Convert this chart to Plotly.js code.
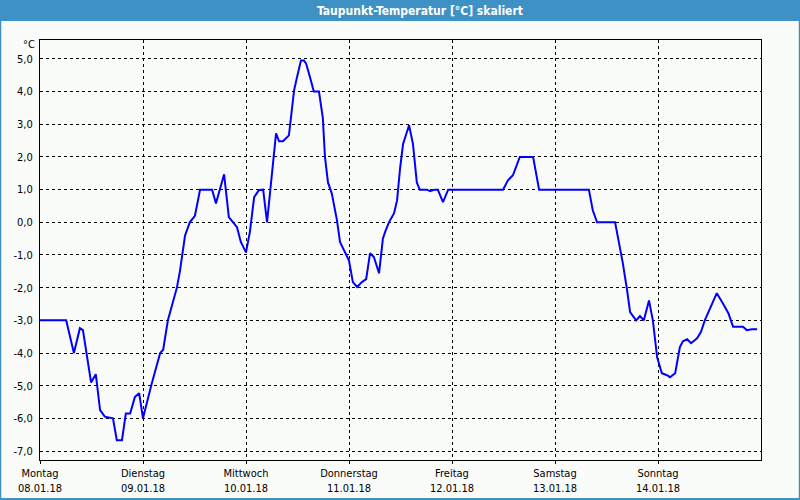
<!DOCTYPE html>
<html>
<head>
<meta charset="utf-8">
<script src="https://cdn.plot.ly/plotly-3.0.1.min.js"></script>
<style>
html,body{margin:0;padding:0;background:#fafcfa;}
#chart{width:800px;height:500px;}
</style>
</head>
<body>
<div id="chart"></div>
<script>
// hours since Monday 08.01.18 00:00
const hours = [0,6.1,7.9,9.3,10.0,11.9,13.0,14.0,15.1,17.0,17.9,19.1,20.0,21.0,22.1,23.1,24.0,25.9,28.0,28.7,29.8,31.9,32.6,33.8,34.9,36.1,37.3,40.1,41.0,42.9,44.0,45.9,46.8,48.0,48.9,49.9,51.0,52.0,52.9,53.8,54.5,55.0,55.7,56.6,58.0,58.5,59.2,59.9,60.8,61.5,62.0,62.9,63.8,65.0,65.9,66.4,67.1,68.0,69.2,69.9,71.5,72.0,72.9,73.9,75.0,76.0,76.9,77.8,79.0,79.9,80.4,81.3,82.5,83.2,83.9,84.6,86.0,86.9,87.8,88.5,90.2,90.9,92.0,92.7,93.9,95.1,107.9,109.0,110.2,111.8,114.9,115.8,116.3,127.9,128.8,129.8,134.0,135.1,135.8,136.8,137.5,138.9,139.8,140.7,141.9,142.8,143.8,144.9,146.1,146.8,148.0,149.1,149.8,150.8,151.7,153.1,154.0,154.9,156.1,157.7,159.1,160.4,161.5,163.8,164.7,165.9,167.1];
const dewpoint = [-3.0,-3.0,-4.0,-3.24,-3.3,-4.9,-4.65,-5.75,-5.95,-6.0,-6.67,-6.67,-5.85,-5.85,-5.35,-5.23,-6.0,-5.0,-4.0,-3.9,-3.0,-2.0,-1.5,-0.4,0.0,0.2,1.0,1.0,0.58,1.47,0.16,-0.15,-0.6,-0.92,-0.3,0.77,0.98,1.0,0.0,1.2,2.1,2.72,2.48,2.48,2.66,3.2,4.04,4.45,4.95,4.95,4.86,4.45,4.0,4.0,3.2,2.0,1.22,0.88,0.06,-0.6,-1.0,-1.17,-1.83,-1.98,-1.83,-1.74,-0.95,-1.06,-1.56,-0.5,-0.3,0.0,0.28,0.67,1.65,2.4,2.97,2.4,1.22,1.0,1.0,0.95,1.0,1.0,0.62,1.0,1.0,1.28,1.44,2.0,2.0,1.28,1.0,1.0,0.37,0.0,0.0,-0.76,-1.25,-2.08,-2.75,-3.0,-2.87,-3.0,-2.39,-3.0,-4.13,-4.62,-4.68,-4.74,-4.62,-3.82,-3.64,-3.58,-3.7,-3.55,-3.36,-3.0,-2.63,-2.17,-2.48,-2.78,-3.2,-3.2,-3.3,-3.27,-3.27];
const dayTicks = [0,24,48,72,96,120,144];
const dayNames = ["Montag","Dienstag","Mittwoch","Donnerstag","Freitag","Samstag","Sonntag"];
const dayDates = ["08.01.18","09.01.18","10.01.18","11.01.18","12.01.18","13.01.18","14.01.18"];
const yTicks = [5,4,3,2,1,0,-1,-2,-3,-4,-5,-6,-7];
const yLabels = yTicks.map(v => v.toFixed(1).replace('.', ','));
const titleText = "Taupunkt-Temperatur [°C] skaliert";

const W = 800, H = 500, L = 40, R = 39, T = 40, B = 40;
const pw = W - L - R, ph = H - T - B;
const px = x => (x - L) / pw;          // canvas px -> paper x
const py = y => (H - B - y) / ph;      // canvas px (from top) -> paper y

const font = "Tahoma, 'DejaVu Sans Condensed', 'Liberation Sans', sans-serif";

const data = [{
  x: hours, y: dewpoint, type: 'scatter', mode: 'lines',
  line: {color: '#0000ff', width: 2}, hoverinfo: 'skip'
}];

const layout = {
  width: W, height: H,
  margin: {l: L, r: R, t: T, b: B, pad: 0},
  paper_bgcolor: '#fafcfa', plot_bgcolor: '#fafcfa',
  showlegend: false,
  font: {family: font, size: 11, color: '#000'},
  xaxis: {
    range: [0, 168], tickmode: 'array', tickvals: dayTicks,
    ticktext: dayNames.map((d, i) => d + '<br>' + dayDates[i]),
    showgrid: true, gridcolor: '#000', gridwidth: 1, griddash: 'dot',
    showline: true, linecolor: '#000', linewidth: 1, mirror: true,
    ticks: 'outside', ticklen: 3, tickcolor: '#000', zeroline: false,
    tickfont: {family: font, size: 11, color: '#000'}, fixedrange: true
  },
  yaxis: {
    range: [-7.275, 5.58], tickmode: 'array', tickvals: yTicks, ticktext: yLabels,
    showgrid: true, gridcolor: '#000', gridwidth: 1, griddash: 'dot',
    showline: true, linecolor: '#000', linewidth: 1, mirror: true,
    ticks: '', zeroline: false, ticklabelstandoff: 4,
    tickfont: {family: font, size: 11, color: '#000'}, fixedrange: true
  },
  shapes: [
    {type: 'rect', xref: 'paper', yref: 'paper', x0: px(0), x1: px(800), y0: py(21), y1: py(0),
     fillcolor: '#3d91c4', line: {width: 0}, layer: 'below'},
    {type: 'line', xref: 'paper', yref: 'paper', x0: px(0.5), x1: px(0.5), y0: py(21), y1: py(499.5),
     line: {color: '#3d91c4', width: 1.5}},
    {type: 'line', xref: 'paper', yref: 'paper', x0: px(799.5), x1: px(799.5), y0: py(21), y1: py(499.5),
     line: {color: '#3d91c4', width: 1.5}},
    {type: 'line', xref: 'paper', yref: 'paper', x0: px(0), x1: px(800), y0: py(499), y1: py(499),
     line: {color: '#3d91c4', width: 2}}
  ],
  annotations: [
    {text: '<b>' + titleText + '</b>', xref: 'paper', yref: 'paper', x: px(420), y: py(10.5),
     xanchor: 'center', yanchor: 'middle', showarrow: false,
     font: {family: font, size: 12, color: '#ffffff'}},
    {text: '°C', xref: 'paper', yref: 'paper', x: px(37), y: py(45),
     xanchor: 'right', yanchor: 'middle', showarrow: false,
     font: {family: font, size: 11, color: '#000'}}
  ]
};

Plotly.newPlot('chart', data, layout, {displayModeBar: false, staticPlot: true});
</script>
</body>
</html>
